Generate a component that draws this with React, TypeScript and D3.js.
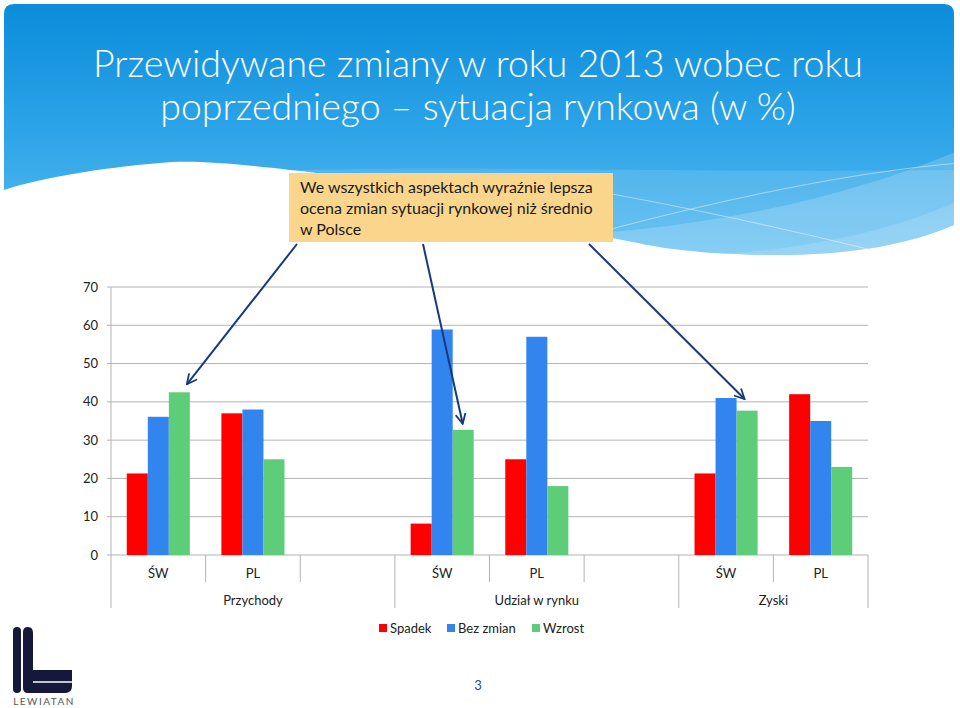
import React from "react";
import * as d3 from "d3";

// chart data
const categories = ["ŚW", "PL", "", "ŚW", "PL", "", "ŚW", "PL"];
const groups = ["Przychody", "Udział w rynku", "Zyski"];
const groupSpans = [3, 3, 2];
const seriesNames = ["Spadek", "Bez zmian", "Wzrost"];
const seriesColors = ["#ff0000", "#3284ef", "#5ecd7a"];
const spadek = [21.3, 37, null, 8.2, 25, null, 21.3, 42];
const bezZmian = [36.1, 38, null, 58.9, 57, null, 41, 35];
const wzrost = [42.5, 25, null, 32.7, 18, null, 37.7, 23];
const yTicks = [0, 10, 20, 30, 40, 50, 60, 70];

const titleLines = [
  "Przewidywane zmiany w roku 2013 wobec roku",
  "poprzedniego – sytuacja rynkowa (w %)",
];
const calloutLines = [
  "We wszystkich aspektach wyraźnie lepsza",
  "ocena zmian sytuacji rynkowej niż średnio",
  "w Polsce",
];

const FONT = "Lato, 'Open Sans', sans-serif";

const W = 960;
const H = 708;
const left = 111;
const right = 868;
const top = 287;
const bottom = 555;

export default function App() {
  const series = [spadek, bezZmian, wzrost];

  const x = d3
    .scaleBand<number>()
    .domain(d3.range(categories.length))
    .range([left, right])
    .paddingInner(0)
    .paddingOuter(0);

  const slot = x.bandwidth();
  // gap width 150% of one bar -> 3 bars take 3/4.5 of slot
  const gap = slot * (1.5 / 4.5);
  const inner = d3
    .scaleBand<number>()
    .domain(d3.range(seriesNames.length))
    .range([gap / 2, slot - gap / 2]);
  const bw = inner.bandwidth();

  const y = d3.scaleLinear().domain([0, 70]).range([bottom, top]);

  // group boundaries
  const groupEdges: number[] = [0];
  groupSpans.forEach((s, i) => groupEdges.push(groupEdges[i] + s));
  const edgeX = (i: number) => (i >= categories.length ? right : (x(i) as number));

  // arrows from callout box to the ŚW bars
  const arrows = [
    { from: [297, 244], to: [x(0)! + inner(2)! + bw - 3, y(wzrost[0]!) - 8] },
    { from: [423, 244], to: [x(3)! + inner(2)! + 10, y(wzrost[3]!) - 6] },
    { from: [589, 244], to: [x(6)! + inner(2)! + 8, y(bezZmian[6]!) + 1] },
  ];

  const legendItems = [
    { x: 379, label: seriesNames[0], color: seriesColors[0] },
    { x: 447, label: seriesNames[1], color: seriesColors[1] },
    { x: 532, label: seriesNames[2], color: seriesColors[2] },
  ];

  return (
    <div style={{ position: "fixed", left: 0, top: 0, width: W, height: H, background: "#fff" }}>
      <svg width={W} height={H} style={{ display: "block" }}>
        <defs>
          <linearGradient id="bg" x1="0" y1="0" x2="0" y2="1">
            <stop offset="0" stopColor="#0a8cda" />
            <stop offset="0.45" stopColor="#2aa2e7" />
            <stop offset="1" stopColor="#5dbef1" />
          </linearGradient>
          <clipPath id="panelClip">
            <path d="M4,14 Q4,4 14,4 H944 Q954,4 954,14 V225 C910,244 850,256 767,255 C700,254 660,248 633,242 C520,222 400,180 290,170 C230,163 190,160 160,163 C100,168 40,178 4,190 Z" />
          </clipPath>
          <marker
            id="arrowHead"
            viewBox="0 0 12 12"
            refX="11"
            refY="6"
            markerWidth="12"
            markerHeight="12"
            markerUnits="userSpaceOnUse"
            orient="auto"
          >
            <path d="M1,1 L11,6 L1,11" fill="none" stroke="#17397d" strokeWidth="1.8" />
          </marker>
        </defs>

        {/* header background */}
        <g clipPath="url(#panelClip)">
          <rect x={0} y={0} width={W} height={270} fill="url(#bg)" />
          <path d="M0,205 C200,150 500,175 960,170 V270 H0 Z" fill="#ffffff" opacity={0.12} />
          <path d="M300,230 C520,250 760,235 960,150 V270 H300 Z" fill="#ffffff" opacity={0.18} />
          <path d="M560,250 C700,265 850,250 960,200 V270 H560 Z" fill="#ffffff" opacity={0.15} />
          <path d="M560,185 C680,205 790,230 880,252" fill="none" stroke="#ffffff" strokeOpacity={0.45} strokeWidth={1} />
          <path d="M600,232 C720,200 850,172 960,163" fill="none" stroke="#ffffff" strokeOpacity={0.45} strokeWidth={1} />
        </g>

        {/* title */}
        {titleLines.map((t, i) => (
          <text
            key={i}
            x={478}
            y={77 + i * 43}
            textAnchor="middle"
            fontFamily={FONT}
            fontSize={37.5}
            fontWeight={300}
            fill="#ffffff"
          >
            {t}
          </text>
        ))}

        {/* callout */}
        <rect x={289} y={173} width={324} height={69} fill="#fad68c" />
        {calloutLines.map((t, i) => (
          <text key={i} x={300} y={193 + i * 21} fontFamily={FONT} fontSize={16} fill="#1a1a1a">
            {t}
          </text>
        ))}

        {/* gridlines and y axis */}
        {yTicks.map((t) => (
          <g key={t}>
            <line x1={left - 4} x2={right} y1={y(t)} y2={y(t)} stroke="#b3b3b3" strokeWidth={1} />
            <text
              x={98}
              y={y(t)}
              dy="0.35em"
              textAnchor="end"
              fontFamily={FONT}
              fontSize={13}
              fill="#222"
            >
              {t}
            </text>
          </g>
        ))}
        <line x1={left} x2={left} y1={top} y2={608} stroke="#b3b3b3" strokeWidth={1} />

        {/* bars */}
        {series.map((vals, si) =>
          vals.map((v, ci) =>
            v == null ? null : (
              <rect
                key={si + "-" + ci}
                x={(x(ci) as number) + (inner(si) as number)}
                y={y(v)}
                width={bw}
                height={bottom - y(v)}
                fill={seriesColors[si]}
              />
            )
          )
        )}

        {/* category axis */}
        {d3.range(1, categories.length + 1).map((i) => {
          const isGroupEdge = groupEdges.includes(i);
          return (
            <line
              key={"t" + i}
              x1={edgeX(i)}
              x2={edgeX(i)}
              y1={bottom}
              y2={isGroupEdge ? 608 : 582}
              stroke="#b3b3b3"
              strokeWidth={1}
            />
          );
        })}
        {categories.map((c, i) => (
          <text
            key={"c" + i}
            x={(x(i) as number) + slot / 2}
            y={578}
            textAnchor="middle"
            fontFamily={FONT}
            fontSize={13}
            fill="#222"
          >
            {c}
          </text>
        ))}
        {groups.map((g, i) => (
          <text
            key={"g" + i}
            x={(edgeX(groupEdges[i]) + edgeX(groupEdges[i + 1])) / 2}
            y={605}
            textAnchor="middle"
            fontFamily={FONT}
            fontSize={13}
            fill="#222"
          >
            {g}
          </text>
        ))}

        {/* arrows */}
        {arrows.map((a, i) => (
          <line
            key={"a" + i}
            x1={a.from[0]}
            y1={a.from[1]}
            x2={a.to[0]}
            y2={a.to[1]}
            stroke="#17397d"
            strokeWidth={2}
            markerEnd="url(#arrowHead)"
          />
        ))}

        {/* legend */}
        {legendItems.map((l) => (
          <g key={l.label}>
            <rect x={l.x} y={624} width={8} height={8} fill={l.color} />
            <text x={l.x + 11} y={633} fontFamily={FONT} fontSize={13} fill="#222">
              {l.label}
            </text>
          </g>
        ))}

        {/* page number */}
        <text x={478} y={690} textAnchor="middle" fontFamily={FONT} fontSize={13} fill="#2b4a7a">
          3
        </text>

        {/* logo */}
        <g fill="#15173b">
          <rect x={13} y={627} width={8} height={66} rx={4} />
          <path d="M23,632 Q23,627 28,627 Q33,627 33,633 V670 H72 V686 Q72,693 65,693 H28 Q23,693 23,688 Z" />
        </g>
        <line x1={33} x2={72} y1={682} y2={682} stroke="#ffffff" strokeWidth={1.5} />
        <text x={44} y={705} textAnchor="middle" fontFamily={FONT} fontSize={10} letterSpacing={1.5} fill="#555">
          LEWIATAN
        </text>
      </svg>
    </div>
  );
}
